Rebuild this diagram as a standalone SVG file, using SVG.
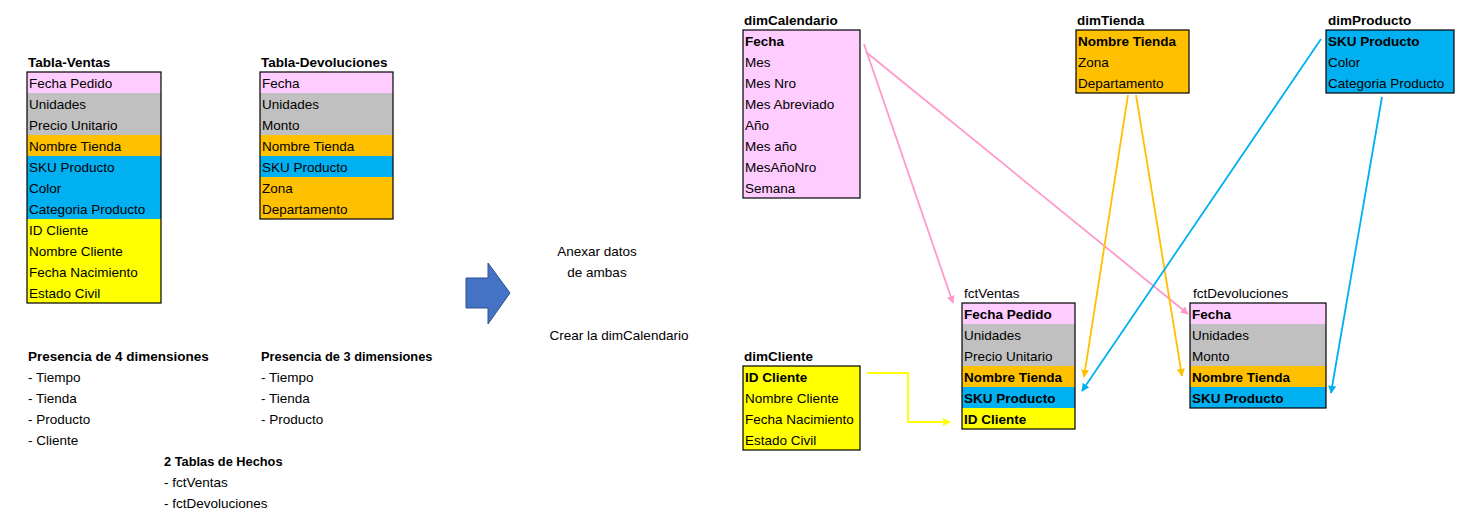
<svg xmlns="http://www.w3.org/2000/svg" width="1466" height="521" viewBox="0 0 1466 521">
<defs>
<style>
text{font-family:"Liberation Sans",Arial,sans-serif;font-size:13.5px;fill:#000}
.b{font-weight:bold}
.sb{font-weight:bold;font-size:12.8px}
.box{fill:none;stroke:#000;stroke-width:1.2}
.pk{fill:#FFCCFF}.gr{fill:#C0C0C0}.or{fill:#FFC000}.bl{fill:#00B0F0}.ye{fill:#FFFF00}
.lp{stroke:#FF99CC;stroke-width:1.8;fill:none}
.lo{stroke:#FFC000;stroke-width:1.8;fill:none}
.lb{stroke:#00B0F0;stroke-width:1.8;fill:none}
.ly{stroke:#FFFF00;stroke-width:1.8;fill:none}
</style>
<marker id="mp" viewBox="0 0 10 10" refX="9" refY="5" markerWidth="8" markerHeight="8" orient="auto" markerUnits="userSpaceOnUse"><path d="M0,0L10,5L0,10z" fill="#FF99CC"/></marker>
<marker id="mo" viewBox="0 0 10 10" refX="9" refY="5" markerWidth="8" markerHeight="8" orient="auto" markerUnits="userSpaceOnUse"><path d="M0,0L10,5L0,10z" fill="#FFC000"/></marker>
<marker id="mb" viewBox="0 0 10 10" refX="9" refY="5" markerWidth="8" markerHeight="8" orient="auto" markerUnits="userSpaceOnUse"><path d="M0,0L10,5L0,10z" fill="#00B0F0"/></marker>
<marker id="my" viewBox="0 0 10 10" refX="9" refY="5" markerWidth="8" markerHeight="8" orient="auto" markerUnits="userSpaceOnUse"><path d="M0,0L10,5L0,10z" fill="#FFFF00"/></marker>
</defs>
<rect width="1466" height="521" fill="#fff"/>

<g id="tabla-ventas">
<text x="28" y="67" class="b">Tabla-Ventas</text>
<rect x="27" y="72" width="134" height="21" class="pk"/>
<rect x="27" y="93" width="134" height="42" class="gr"/>
<rect x="27" y="135" width="134" height="21" class="or"/>
<rect x="27" y="156" width="134" height="63" class="bl"/>
<rect x="27" y="219" width="134" height="84" class="ye"/>
<rect x="27" y="72" width="134" height="231" class="box"/>
<text x="29" y="88">Fecha Pedido</text>
<text x="29" y="109">Unidades</text>
<text x="29" y="130">Precio Unitario</text>
<text x="29" y="151">Nombre Tienda</text>
<text x="29" y="172">SKU Producto</text>
<text x="29" y="193">Color</text>
<text x="29" y="214">Categoria Producto</text>
<text x="29" y="235">ID Cliente</text>
<text x="29" y="256">Nombre Cliente</text>
<text x="29" y="277">Fecha Nacimiento</text>
<text x="29" y="298">Estado Civil</text>
</g>

<g id="tabla-devoluciones">
<text x="261" y="67" class="b">Tabla-Devoluciones</text>
<rect x="260" y="72" width="133" height="21" class="pk"/>
<rect x="260" y="93" width="133" height="42" class="gr"/>
<rect x="260" y="135" width="133" height="21" class="or"/>
<rect x="260" y="156" width="133" height="21" class="bl"/>
<rect x="260" y="177" width="133" height="42" class="or"/>
<rect x="260" y="72" width="133" height="147" class="box"/>
<text x="262" y="88">Fecha</text>
<text x="262" y="109">Unidades</text>
<text x="262" y="130">Monto</text>
<text x="262" y="151">Nombre Tienda</text>
<text x="262" y="172">SKU Producto</text>
<text x="262" y="193">Zona</text>
<text x="262" y="214">Departamento</text>
</g>

<g id="notas">
<text x="28" y="361" class="b">Presencia de 4 dimensiones</text>
<text x="28" y="382">- Tiempo</text>
<text x="28" y="403">- Tienda</text>
<text x="28" y="424">- Producto</text>
<text x="28" y="445">- Cliente</text>
<text x="261" y="361" class="sb">Presencia de 3 dimensiones</text>
<text x="261" y="382">- Tiempo</text>
<text x="261" y="403">- Tienda</text>
<text x="261" y="424">- Producto</text>
<text x="164" y="466" class="sb">2 Tablas de Hechos</text>
<text x="164" y="487">- fctVentas</text>
<text x="164" y="508">- fctDevoluciones</text>
</g>

<g id="flecha">
<path d="M466,278H488V263L510,293L488,324V308H466Z" fill="#4472C4" stroke="#2F528F" stroke-width="1"/>
<text x="597" y="256" text-anchor="middle">Anexar datos</text>
<text x="597" y="277" text-anchor="middle">de ambas</text>
<text x="619" y="340" text-anchor="middle">Crear la dimCalendario</text>
</g>

<g id="dimCalendario">
<text x="744" y="25" class="b">dimCalendario</text>
<rect x="743" y="30" width="117" height="168" class="pk"/>
<rect x="743" y="30" width="117" height="168" class="box"/>
<text x="745" y="46" class="b">Fecha</text>
<text x="745" y="67">Mes</text>
<text x="745" y="88">Mes Nro</text>
<text x="745" y="109">Mes Abreviado</text>
<text x="745" y="130">Año</text>
<text x="745" y="151">Mes año</text>
<text x="745" y="172">MesAñoNro</text>
<text x="745" y="193">Semana</text>
</g>

<g id="dimTienda">
<text x="1077" y="25" class="b">dimTienda</text>
<rect x="1076" y="30" width="113" height="63" class="or"/>
<rect x="1076" y="30" width="113" height="63" class="box"/>
<text x="1078" y="46" class="b">Nombre Tienda</text>
<text x="1078" y="67">Zona</text>
<text x="1078" y="88">Departamento</text>
</g>

<g id="dimProducto">
<text x="1328" y="25" class="b">dimProducto</text>
<rect x="1326" y="30" width="128" height="63" class="bl"/>
<rect x="1326" y="30" width="128" height="63" class="box"/>
<text x="1328" y="46" class="b">SKU Producto</text>
<text x="1328" y="67">Color</text>
<text x="1328" y="88">Categoria Producto</text>
</g>

<g id="fctVentas">
<text x="964" y="298">fctVentas</text>
<rect x="962" y="303" width="113" height="21" class="pk"/>
<rect x="962" y="324" width="113" height="42" class="gr"/>
<rect x="962" y="366" width="113" height="21" class="or"/>
<rect x="962" y="387" width="113" height="21" class="bl"/>
<rect x="962" y="408" width="113" height="21" class="ye"/>
<rect x="962" y="303" width="113" height="126" class="box"/>
<text x="964" y="319" class="b">Fecha Pedido</text>
<text x="964" y="340">Unidades</text>
<text x="964" y="361">Precio Unitario</text>
<text x="964" y="382" class="b">Nombre Tienda</text>
<text x="964" y="403" class="b">SKU Producto</text>
<text x="964" y="424" class="b">ID Cliente</text>
</g>

<g id="fctDevoluciones">
<text x="1193" y="298">fctDevoluciones</text>
<rect x="1190" y="303" width="136" height="21" class="pk"/>
<rect x="1190" y="324" width="136" height="42" class="gr"/>
<rect x="1190" y="366" width="136" height="21" class="or"/>
<rect x="1190" y="387" width="136" height="21" class="bl"/>
<rect x="1190" y="303" width="136" height="105" class="box"/>
<text x="1192" y="319" class="b">Fecha</text>
<text x="1192" y="340">Unidades</text>
<text x="1192" y="361">Monto</text>
<text x="1192" y="382" class="b">Nombre Tienda</text>
<text x="1192" y="403" class="b">SKU Producto</text>
</g>

<g id="dimCliente">
<text x="744" y="361" class="b">dimCliente</text>
<rect x="743" y="366" width="117" height="84" class="ye"/>
<rect x="743" y="366" width="117" height="84" class="box"/>
<text x="745" y="382" class="b">ID Cliente</text>
<text x="745" y="403">Nombre Cliente</text>
<text x="745" y="424">Fecha Nacimiento</text>
<text x="745" y="445">Estado Civil</text>
</g>

<g id="connectors">
<line x1="864" y1="44" x2="953" y2="303" class="lp" marker-end="url(#mp)"/>
<line x1="866" y1="52" x2="1188" y2="314" class="lp" marker-end="url(#mp)"/>
<line x1="1128" y1="95" x2="1084" y2="377" class="lo" marker-end="url(#mo)"/>
<line x1="1136" y1="95" x2="1182" y2="376" class="lo" marker-end="url(#mo)"/>
<line x1="1321" y1="39" x2="1082" y2="391" class="lb" marker-end="url(#mb)"/>
<line x1="1382" y1="97" x2="1331" y2="393" class="lb" marker-end="url(#mb)"/>
<polyline points="867,373 908,373 908,422 950,422" class="ly" marker-end="url(#my)"/>
</g>
</svg>
